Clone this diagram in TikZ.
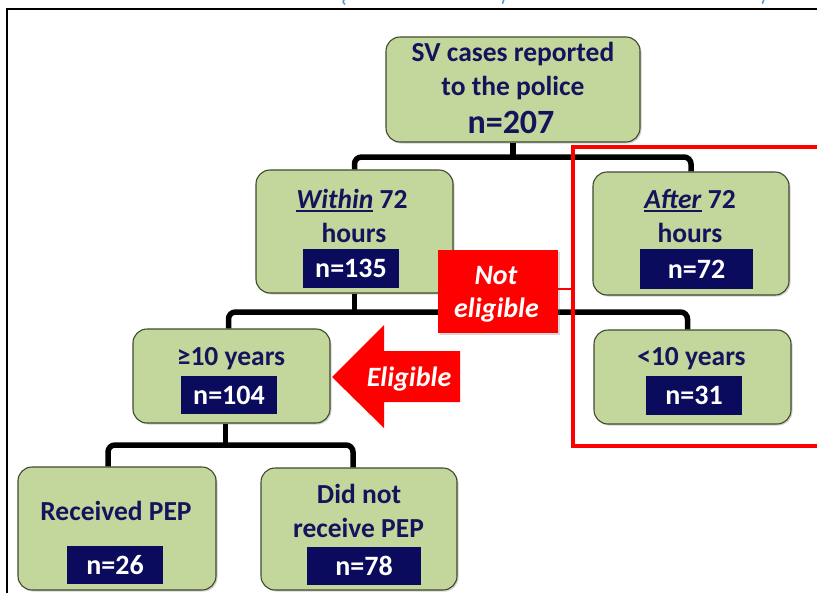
\documentclass[tikz,border=0pt]{standalone}
\usepackage{fontspec}
\setmainfont{Carlito}
\usetikzlibrary{shadows}
\definecolor{boxgreen}{HTML}{C3D69B}
\definecolor{boxedge}{HTML}{3F4A2E}
\definecolor{navytext}{HTML}{14145C}
\definecolor{navybox}{HTML}{0B0B5E}
\definecolor{titleblue}{HTML}{5B9BD5}
\definecolor{alertred}{HTML}{FF0000}
\newcommand\myul[1]{\setbox0\hbox{#1}\rlap{\vrule height -2.2pt depth 4.2pt width \wd0\relax}\box0\relax}
\tikzset{
  gbox/.style={draw=boxedge, line width=1.1pt, fill=boxgreen, rounded corners=14pt, inner sep=0pt,
    drop shadow={shadow xshift=1.5pt, shadow yshift=-1.5pt, opacity=0.35}},
  nbox/.style={fill=navybox, inner sep=0pt, text=white, font=\bfseries\fontsize{28}{30}\selectfont},
  lbl/.style={anchor=base, text=navytext, font=\bfseries\fontsize{27.5}{30}\selectfont, inner sep=0pt},
  wlbl/.style={anchor=base, text=white, font=\bfseries\itshape\fontsize{28}{30}\selectfont, inner sep=0pt},
  conn/.style={draw=black, line width=5.5pt, rounded corners=7pt},
  frag/.style={draw=titleblue, line width=1.6pt, line cap=round}
}
\begin{document}
\begin{tikzpicture}[x=1pt,y=-1pt]
\useasboundingbox (0,0) rectangle (817,592);
\clip (0,0) rectangle (817,592);
\fill[white] (0,0) rectangle (817,592);

% cut-off title fragments (only their lowest strokes are visible)
\draw[frag] (344.5,-1) .. controls (342.5,1.5) .. (344.8,4.2);
\draw[frag] (504,-1) -- (502.6,3.2);
\draw[frag] (764,-1) -- (762.6,3.2);

% outer frame
\draw[line width=2.2pt] (7,600) -- (7,9) -- (830,9);

% bar levels
\coordinate (b1) at (0,157);
\coordinate (b2) at (0,312);
\coordinate (b3) at (0,445);

% boxes
\node[gbox, minimum width=254pt, minimum height=105pt] (top) at (513,89.5) {};
\node[gbox, minimum width=197pt, minimum height=123pt] (within) at (354.5,231.5) {};
\node[gbox, minimum width=196pt, minimum height=123pt] (after) at (691,233.5) {};
\node[gbox, minimum width=197pt, minimum height=94pt] (ge10) at (231.5,376) {};
\node[gbox, minimum width=197pt, minimum height=94pt] (lt10) at (692.5,377) {};
\node[gbox, minimum width=198pt, minimum height=123pt] (rec) at (117,528.5) {};
\node[gbox, minimum width=196pt, minimum height=122pt] (norec) at (359,529) {};

% connectors
\draw[conn] (top.south) -- (top.south |- b1);
\draw[conn] (within.north) -- (within.north |- b1) -- (after.north |- b1) -- (after.north);
\draw[conn] (within.south) -- (within.south |- b2);
\draw[conn] ([xshift=-3pt]ge10.north) -- ([xshift=-3pt]ge10.north |- b2) -- ([xshift=-5pt]lt10.north |- b2) -- ([xshift=-5pt]lt10.north);
\draw[conn] ([xshift=-6pt]ge10.south) -- ([xshift=-6pt]ge10.south |- b3);
\draw[conn] ([xshift=-9pt]rec.north) -- ([xshift=-9pt]rec.north |- b3) -- ([xshift=-6pt]norec.north |- b3) -- ([xshift=-6pt]norec.north);

% texts
\node[lbl] (t1) at (513,61) {SV cases reported};
\node[lbl] (t2) at (513,95) {to the police};
\node[lbl, font=\bfseries\fontsize{34}{36}\selectfont] (t3) at (511,133) {n=207};

\node[lbl] (w1) at (352,208) {\myul{\textit{Within}} 72};
\node[lbl] (w2) at (354,242) {hours};
\node[nbox, minimum width=96pt, minimum height=39pt] (n135) at (351,268.5) {n=135};

\node[lbl] (a1) at (690,208) {\myul{\textit{After}} 72};
\node[lbl] (a2) at (690,242) {hours};
\node[nbox, minimum width=113pt, minimum height=40pt] (n72) at (696.5,269) {n=72};

\node[lbl] (g1) at (231,365) {≥10 years};
\node[nbox, minimum width=96pt, minimum height=38pt] (n104) at (229,395) {n=104};

\node[lbl] (l1) at (691.5,365) {<10 years};
\node[nbox, minimum width=96pt, minimum height=39pt] (n31) at (694,395.5) {n=31};

\node[lbl] (r1) at (116,520) {Received PEP};
\node[nbox, minimum width=96pt, minimum height=38pt] (n26) at (115,565) {n=26};

\node[lbl] (d1) at (359,503) {Did not};
\node[lbl] (d2) at (358.5,537) {receive PEP};
\node[nbox, minimum width=114pt, minimum height=38pt] (n78) at (364,566) {n=78};

% red frame
\coordinate (rfl) at (573,289);
\draw[alertred, line width=4pt] (830,147) -- (573,147) -- (573,446) -- (830,446);

% not eligible
\node[fill=alertred, minimum width=120pt, minimum height=83pt, inner sep=0pt,
  drop shadow={shadow xshift=1.5pt, shadow yshift=-1.5pt, opacity=0.3}] (notel) at (498,291.5) {};
\draw[alertred, line width=2pt] (notel.east |- rfl) -- (rfl);
\node[wlbl] (ne1) at (496,284) {Not};
\node[wlbl] (ne2) at (496.5,317) {eligible};

% eligible arrow
\fill[alertred] (332,377) -- (384,325) -- (384,351) -- (460,351) -- (460,402) -- (384,402) -- (384,428) -- cycle;
\node[wlbl] (el) at (409,386) {Eligible};
\end{tikzpicture}
\end{document}
